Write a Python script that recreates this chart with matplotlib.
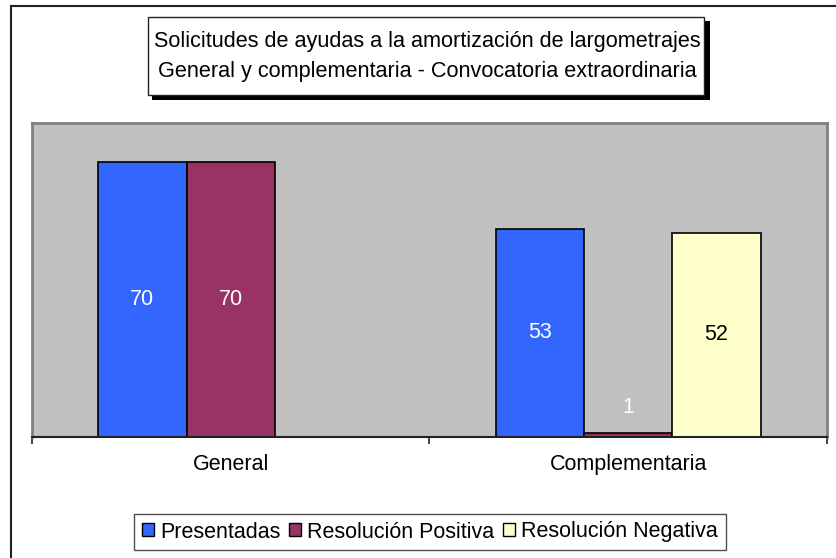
import matplotlib.pyplot as plt
import numpy as np
from matplotlib.patches import Patch, Rectangle
from matplotlib.lines import Line2D

plt.rcParams['font.family'] = ['Liberation Sans', 'DejaVu Sans']

categories = ['General', 'Complementaria']
series = ['Presentadas', 'Resolución Positiva', 'Resolución Negativa']
presentadas = [70, 53]
positiva = [70, 1]
negativa = [0, 52]
colors = ['#3366FF', '#993366', '#FFFFCC']
label_colors = ['white', 'white', 'black']

W, H = 837, 558
fig = plt.figure(figsize=(W / 100, H / 100), dpi=100)


def fx(px):
    return px / W


def fy(py):
    return 1 - py / H


# outer chart frame (only left and top visible)
fig.add_artist(Line2D([fx(11), fx(11)], [fy(6), 0], color='#222222', lw=1.5))
fig.add_artist(Line2D([fx(11), 1], [fy(6), fy(6)], color='#222222', lw=1.5))

# plot area
ax = fig.add_axes([fx(32), fy(437), fx(827) - fx(32), fy(123) - fy(437)])
ax.set_facecolor('#C0C0C0')

width = 1 / 4.5
x = np.arange(len(categories))
values = [presentadas, positiva, negativa]
for i, vals in enumerate(values):
    pos = x + (i - 1) * width
    for p, v in zip(pos, vals):
        if v == 0:
            continue
        ax.bar(p, v, width=width, color=colors[i], edgecolor='black', linewidth=1.2)
        ax.text(p, max(v / 2, 7.5), str(v), ha='center', va='center',
                color=label_colors[i], fontsize=15.5)

ax.set_xlim(-0.5, 1.5)
ax.set_ylim(0, 80)
ax.set_yticks([])
ax.set_xticks([-0.5, 0.5, 1.5])
ax.set_xticklabels([])
ax.set_xticks(x, minor=True)
ax.set_xticklabels(categories, minor=True, fontsize=15.5)
ax.tick_params(axis='x', which='major', direction='out', length=5, width=1.2, color='#222222')
ax.tick_params(axis='x', which='minor', length=0, pad=12)
for s in ['top', 'left', 'right']:
    ax.spines[s].set_color('#808080')
    ax.spines[s].set_linewidth(2)
ax.spines['bottom'].set_color('#222222')
ax.spines['bottom'].set_linewidth(1.5)

# title box with shadow
fig.add_artist(Rectangle((fx(152), fy(100)), fx(710) - fx(152), fy(21) - fy(100),
                         transform=fig.transFigure, facecolor='black', edgecolor='none'))
fig.add_artist(Rectangle((fx(148), fy(95)), fx(704) - fx(148), fy(17) - fy(95),
                         transform=fig.transFigure, facecolor='white', edgecolor='#222222', lw=1))
fig.text(fx(427), fy(42), 'Solicitudes de ayudas a la amortización de largometrajes',
         ha='center', va='center', fontsize=15.6)
fig.text(fx(427), fy(72), 'General y complementaria - Convocatoria extraordinaria',
         ha='center', va='center', fontsize=15.6)

handles = [Patch(facecolor=c, edgecolor='black', lw=1) for c in colors]
leg = fig.legend(handles, series, loc='center', bbox_to_anchor=(fx(430), fy(532)), ncol=3,
                 fontsize=15.5, frameon=True, fancybox=False, edgecolor='#222222',
                 handlelength=0.55, handleheight=0.55, handletextpad=0.3, columnspacing=0.4,
                 borderpad=0.35)
leg.get_frame().set_linewidth(1)

fig.savefig('out.png', dpi=100)
